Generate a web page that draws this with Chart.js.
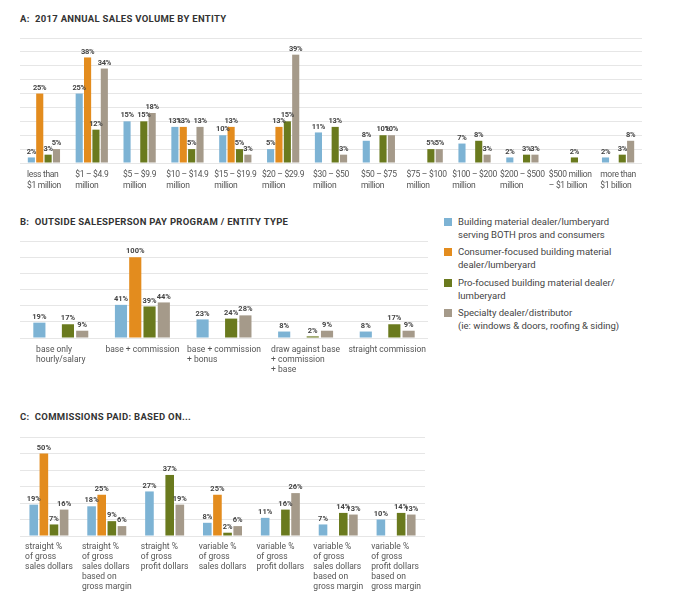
<!DOCTYPE html>
<html>
<head>
<meta charset="utf-8">
<script src="https://cdn.jsdelivr.net/npm/chart.js@4"></script>
<style>
  body { margin: 0; background: #fff; font-family: Roboto, "Noto Sans", sans-serif; }
  #wrap { position: relative; width: 696px; height: 613px; overflow: hidden; }
  canvas { position: absolute; }
  .title { position: absolute; left: 20px; font-weight: 700; font-size: 9.5px; color: #333; letter-spacing: 0.3px; white-space: nowrap; line-height: 12px; }
  #legend { position: absolute; left: 444px; top: 215px; font-size: 9.5px; color: #444; line-height: 13px; }
  .item { position: relative; padding-left: 14px; margin-bottom: 4.3px; }
  .sw { position: absolute; left: 0; top: 3px; width: 8px; height: 8px; }
</style>
</head>
<body>
<div id="wrap">
  <div class="title" style="top:13px">A:&nbsp; 2017 ANNUAL SALES VOLUME BY ENTITY</div>
  <div class="title" style="top:216px">B:&nbsp; OUTSIDE SALESPERSON PAY PROGRAM / ENTITY TYPE</div>
  <div class="title" style="top:411px">C:&nbsp; COMMISSIONS PAID: BASED ON...</div>
  <canvas id="chartA" style="left:0;top:0"></canvas>
  <canvas id="chartB" style="left:0;top:200px"></canvas>
  <canvas id="chartC" style="left:0;top:380px"></canvas>
  <div id="legend"></div>
</div>
<script>
// Series names and colours
const seriesNames = [
    ["Building material dealer/lumberyard", "serving BOTH pros and consumers"],
    ["Consumer-focused building material", "dealer/lumberyard"],
    ["Pro-focused building material dealer/", "lumberyard"],
    ["Specialty dealer/distributor", "(ie: windows & doors, roofing & siding)"]
];
const seriesColors = ["#7db3d4", "#e38c1e", "#6a7a1e", "#a59a8a"];

// A: sales volume
const catsA = [
    ["less than", "$1 million"], ["$1 – $4.9", "million"], ["$5 – $9.9", "million"],
    ["$10 – $14.9", "million"], ["$15 – $19.9", "million"], ["$20 – $29.9", "million"],
    ["$30 – $50", "million"], ["$50 – $75", "million"], ["$75 – $100", "million"],
    ["$100 – $200", "million"], ["$200 – $500", "million"], ["$500 million", "– $1 billion"],
    ["more than", "$1 billion"]
];
const bothA      = [2, 25, 15, 13, 10, 5, 11, 8, null, 7, 2, null, 2];
const consumerA  = [25, 38, null, 13, 13, 13, null, null, null, null, null, null, null];
const proA       = [3, 12, 15, 5, 5, 15, 13, 10, 5, 8, 3, 2, 3];
const specialtyA = [5, 34, 18, 13, 3, 39, 3, 10, 5, 3, 3, null, 8];

// B: pay program
const catsB = [
    ["base only", "hourly/salary"], ["base + commission"], ["base + commission", "+ bonus"],
    ["draw against base", "+ commission", "+ base"], ["straight commission"]
];
const bothB      = [19, 41, 23, 8, 8];
const consumerB  = [null, 100, null, null, null];
const proB       = [17, 39, 24, 2, 17];
const specialtyB = [9, 44, 28, 9, 9];

// C: commissions based on
const catsC = [
    ["straight %", "of gross", "sales dollars"],
    ["straight %", "of gross", "sales dollars", "based on", "gross margin"],
    ["straight %", "of gross", "profit dollars"],
    ["variable %", "of gross", "sales dollars"],
    ["variable %", "of gross", "profit dollars"],
    ["variable %", "of gross", "sales dollars", "based on", "gross margin"],
    ["variable %", "of gross", "profit dollars", "based on", "gross margin"]
];
const bothC      = [19, 18, 27, 8, 11, 7, 10];
const consumerC  = [50, 25, null, 25, null, null, null];
const proC       = [7, 9, 37, 2, 16, 14, 14];
const specialtyC = [16, 6, 19, 6, 26, 13, 13];

const FONT = 'Roboto, "Noto Sans", sans-serif';

// value labels above bars + category labels below (centered block, left-aligned lines)
const labelsPlugin = {
    id: 'labels',
    afterDatasetsDraw(chart, args, opts) {
        const ctx = chart.ctx;
        ctx.save();
        ctx.fillStyle = '#444';
        ctx.font = 'bold ' + opts.valueSize + 'px ' + FONT;
        ctx.letterSpacing = opts.spacing;
        ctx.textAlign = 'center';
        ctx.textBaseline = 'bottom';
        chart.data.datasets.forEach((ds, di) => {
            const meta = chart.getDatasetMeta(di);
            meta.data.forEach((bar, i) => {
                const v = ds.data[i];
                if (v === null) return;
                ctx.fillText(v + '%', bar.x, bar.y - 2);
            });
        });
        const xs = chart.scales.x;
        const area = chart.chartArea;
        ctx.font = opts.catSize + 'px ' + FONT;
        ctx.fillStyle = '#555';
        ctx.textAlign = 'left';
        ctx.textBaseline = 'middle';
        opts.cats.forEach((lines, i) => {
            const cx = xs.getPixelForValue(i);
            const w = Math.max(...lines.map(l => ctx.measureText(l).width));
            lines.forEach((l, k) => {
                ctx.fillText(l, cx - w / 2, area.bottom + opts.catTop + k * opts.lineH);
            });
        });
        ctx.restore();
    }
};

function makeChart(id, w, h, cats, series, max, step, pad, lab) {
    const cv = document.getElementById(id);
    cv.width = w; cv.height = h;
    cv.style.width = w + 'px'; cv.style.height = h + 'px';
    return new Chart(cv.getContext('2d'), {
        type: 'bar',
        data: {
            labels: cats.map(c => c.join(' ')),
            datasets: series.map((s, i) => ({
                label: seriesNames[i].join(' '),
                data: s,
                backgroundColor: seriesColors[i],
                categoryPercentage: 0.7,
                barPercentage: 0.85
            }))
        },
        options: {
            responsive: false,
            animation: false,
            devicePixelRatio: 1,
            layout: { padding: pad },
            scales: {
                x: {
                    grid: { display: false, drawTicks: false },
                    border: { display: false },
                    ticks: { display: false }
                },
                y: {
                    min: 0, max: max,
                    grid: { color: '#e6e6e6', lineWidth: 1, drawTicks: false },
                    border: { display: false },
                    ticks: { display: false, stepSize: step }
                }
            },
            plugins: {
                legend: { display: false },
                tooltip: { enabled: false },
                labels: Object.assign({ cats: cats }, lab)
            }
        },
        plugins: [labelsPlugin]
    });
}

makeChart('chartA', 696, 200, catsA, [bothA, consumerA, proA, specialtyA], 45, 5,
    { left: 20, right: 54, top: 38, bottom: 37 },
    { valueSize: 7.5, catSize: 8.5, catTop: 12, lineH: 11, spacing: '-0.3px' });
makeChart('chartB', 440, 180, catsB, [bothB, consumerB, proB, specialtyB], 120, 20,
    { left: 20, right: 12, top: 41, bottom: 42 },
    { valueSize: 7.5, catSize: 8.5, catTop: 12, lineH: 10, spacing: '0px' });
makeChart('chartC', 440, 233, catsC, [bothC, consumerC, proC, specialtyC], 60, 10,
    { left: 20, right: 15, top: 57, bottom: 77 },
    { valueSize: 7.5, catSize: 8.5, catTop: 11, lineH: 10, spacing: '0px' });

// legend
const legend = document.getElementById('legend');
seriesNames.forEach((lines, i) => {
    const d = document.createElement('div');
    d.className = 'item';
    d.innerHTML = '<span class="sw" style="background:' + seriesColors[i] + '"></span>' + lines.join('<br>');
    legend.appendChild(d);
});
</script>
</body>
</html>
